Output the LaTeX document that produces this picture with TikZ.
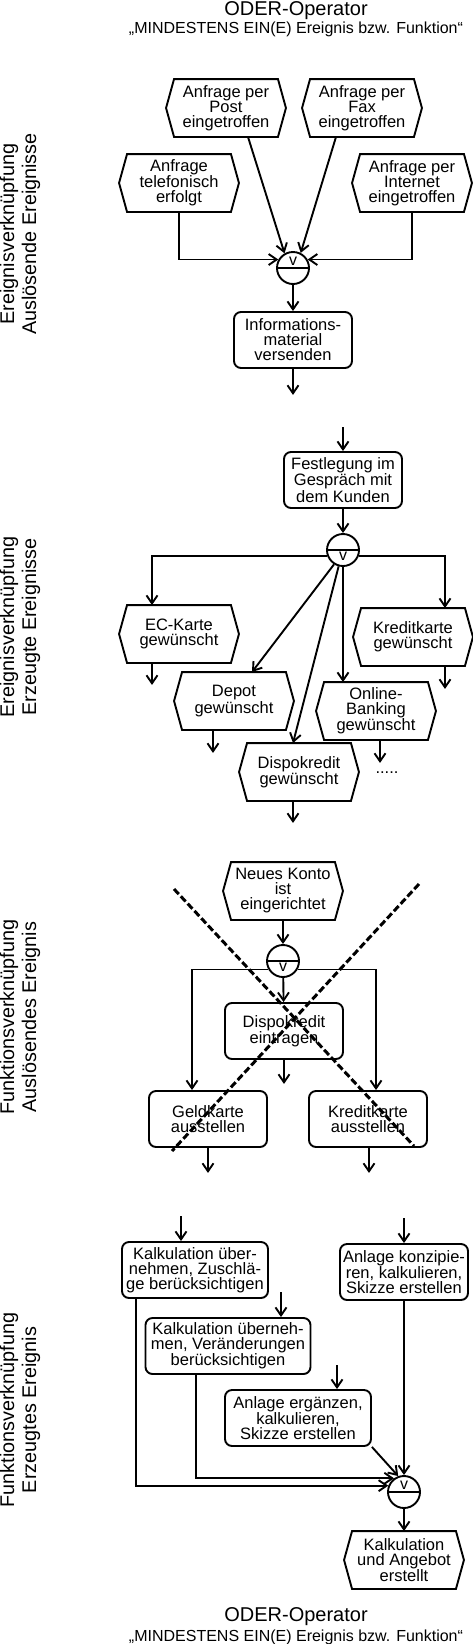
\documentclass[tikz,border=0pt]{standalone}
\usepackage{fontspec}
\setmainfont{Liberation Sans}
\usetikzlibrary{positioning, arrows.meta, calc}

\tikzset{
  pfeil/.style={-{Straight Barb[length=8pt,width=11pt]}},
  boxtext/.style={font=\fontsize{16.5}{15}\selectfont, align=center, inner sep=0pt},
  funktion/.style={boxtext, draw, rounded corners=7pt, minimum width=118pt, minimum height=56pt},
  ereignis/.style={boxtext, minimum width=118pt, minimum height=56pt},
  oder/.style={draw, circle, minimum size=32pt, inner sep=0pt,
    path picture={\draw (path picture bounding box.west) -- (path picture bounding box.east);}},
  oderoben/.style={oder, label={[font=\fontsize{16}{16}\selectfont, yshift=6.5pt]center:v}},
  oderunten/.style={oder, label={[font=\fontsize{16}{16}\selectfont, yshift=-6.5pt]center:v}},
  seite/.style={font=\fontsize{19.8}{22}\selectfont, align=center, rotate=90, inner sep=0pt},
  titel/.style={font=\fontsize{20}{20}\selectfont, anchor=base},
  untertitel/.style={font=\fontsize{16}{16}\selectfont, anchor=base},
  kreuz/.style={line width=3pt, dash pattern=on 7pt off 3pt}
}

\begin{document}
\begin{tikzpicture}[x=1pt, y=1pt, line width=1.9pt]
    \useasboundingbox (0,0) rectangle (473,-1644);

    % Titles
    \node[titel] (titeloben) at (296,-15.5) {ODER-Operator};
    \node[untertitel] (untertiteloben) at (296,-33) {„MINDESTENS EIN(E) Ereignis bzw. Funktion“};
    \node[titel] (titelunten) at (296,-1621) {ODER-Operator};
    \node[untertitel] (untertitelunten) at (296,-1641) {„MINDESTENS EIN(E) Ereignis bzw. Funktion“};

    % Side labels
    \node[seite] (seite1) at (20,-234) {Ereignisverknüpfung\\Auslösende Ereignisse};
    \node[seite] (seite2) at (20,-627) {Ereignisverknüpfung\\Erzeugte Ereignisse};
    \node[seite] (seite3) at (20,-1017) {Funktionsverknüpfung\\Auslösendes Ereignis};
    \node[seite] (seite4) at (20,-1410) {Funktionsverknüpfung\\Erzeugtes Ereignis};

    % Ereignisverknuepfung, ausloesende Ereignisse
    \node[ereignis] (post) at (226,-108) {Anfrage per\\Post\\eingetroffen};
    \node[ereignis] (fax) at (362,-108) {Anfrage per\\Fax\\eingetroffen};
    \node[ereignis] (tel) at (179,-183) {Anfrage\\telefonisch\\erfolgt};
    \node[ereignis] (inet) at (412,-183) {Anfrage per\\Internet\\eingetroffen};
    \node[oderoben] (or1) at (293,-268) {};
    \node[funktion] (info) at (293,-340) {Informations-\\material\\versenden};
    \coordinate[below=26pt of info.south] (infoaus);

    \draw[pfeil] ([xshift=22pt]post.south) -- (or1.120);
    \draw[pfeil] ([xshift=-26pt]fax.south) -- (or1.63);
    \draw[pfeil] (tel.south) |- (or1.150);
    \draw[pfeil] (inet.south) |- (or1.30);
    \draw[pfeil] (or1) -- (info);
    \draw[pfeil] (info) -- (infoaus);

    % Ereignisverknuepfung, erzeugte Ereignisse
    \node[funktion] (fest) at (343,-480) {Festlegung im\\Gespräch mit\\dem Kunden};
    \coordinate[above=24pt of fest.north] (festein);
    \node[oderunten] (or2) at (343,-550) {};
    \node[ereignis] (ec) at (179,-634) {EC-Karte\\gewünscht};
    \node[ereignis] (kk) at (413,-637) {Kreditkarte\\gewünscht};
    \node[ereignis] (depot) at (234,-701) {Depot\\gewünscht};
    \node[ereignis] (online) at (376,-711) {Online-\\Banking\\gewünscht};
    \node[ereignis] (dispo) at (299,-772) {Dispokredit\\gewünscht};
    \node[boxtext] (punkte) at (387,-773) {.....};
    \coordinate[below=22pt of ec.south, xshift=-27pt] (ecaus);
    \coordinate[below=23pt of kk.south, xshift=32pt] (kkaus);
    \coordinate[below=23pt of depot.south, xshift=-21pt] (depotaus);
    \coordinate[below=23pt of online.south, xshift=4pt] (onlineaus);
    \coordinate[below=22pt of dispo.south, xshift=-6pt] (dispoaus);

    \draw[pfeil] (festein) -- (fest);
    \draw[pfeil] (fest) -- (or2);
    \draw[pfeil] (or2.200) -| (ecaus |- ec.north);
    \draw[pfeil] (or2.-20) -| (kkaus |- kk.north);
    \draw[pfeil] (or2.238) -- ([xshift=18pt]depot.north);
    \draw[pfeil] (or2.255) -- (dispoaus |- dispo.north);
    \draw[pfeil] (or2.south) -- (or2.south |- online.north);
    \draw[pfeil] (ec.south -| ecaus) -- (ecaus);
    \draw[pfeil] (kk.south -| kkaus) -- (kkaus);
    \draw[pfeil] (depot.south -| depotaus) -- (depotaus);
    \draw[pfeil] (online.south -| onlineaus) -- (onlineaus);
    \draw[pfeil] (dispo.south -| dispoaus) -- (dispoaus);

    % Funktionsverknuepfung, ausloesendes Ereignis
    \node[ereignis] (konto) at (283,-891) {Neues Konto\\ist\\eingerichtet};
    \node[oderunten] (or3) at (283,-961) {};
    \node[funktion] (dispoein) at (284,-1031) {Dispokredit\\eintragen};
    \node[funktion] (geld) at (208,-1119) {Geldkarte\\ausstellen};
    \node[funktion] (kka) at (368,-1119) {Kreditkarte\\ausstellen};
    \coordinate[below=24pt of dispoein.south] (dispoeinaus);
    \coordinate[below=25pt of geld.south] (geldaus);
    \coordinate[below=25pt of kka.south, xshift=1pt] (kkaaus);

    \draw[pfeil] (konto) -- (or3);
    \draw[pfeil] (or3) -- (dispoein);
    \draw[pfeil] (or3.210) -| ([xshift=-16pt]geld.north);
    \draw[pfeil] (or3.-30) -| ([xshift=8pt]kka.north);
    \draw[pfeil] (dispoein) -- (dispoeinaus);
    \draw[pfeil] (geld) -- (geldaus);
    \draw[pfeil] (kka.south -| kkaaus) -- (kkaaus);

    % Funktionsverknuepfung, erzeugtes Ereignis
    \node[funktion, minimum width=146pt] (kz) at (195,-1270) {Kalkulation über-\\nehmen, Zuschlä-\\ge berücksichtigen};
    \node[funktion, minimum width=128pt] (ak) at (404,-1272) {Anlage konzipie-\\ren, kalkulieren,\\Skizze erstellen};
    \node[funktion, minimum width=165pt] (kv) at (228,-1346) {Kalkulation überneh-\\men, Veränderungen\\berücksichtigen};
    \node[funktion, minimum width=146pt] (ae) at (298,-1418) {Anlage ergänzen,\\kalkulieren,\\Skizze erstellen};
    \node[oderoben] (or4) at (404,-1492) {};
    \node[ereignis] (angebot) at (404,-1560) {Kalkulation\\und Angebot\\erstellt};
    \coordinate[above=25pt of kz.north, xshift=-14pt] (kzein);
    \coordinate[above=25pt of ak.north] (akein);
    \coordinate[above=25pt of kv.north, xshift=53pt] (kvein);
    \coordinate[above=24pt of ae.north, xshift=39pt] (aeein);

    \draw[pfeil] (kzein) -- (kzein |- kz.north);
    \draw[pfeil] (akein) -- (ak);
    \draw[pfeil] (kvein) -- (kvein |- kv.north);
    \draw[pfeil] (aeein) -- (aeein |- ae.north);
    \draw[pfeil] ([xshift=15pt]kz.south west) |- (or4.158);
    \draw[pfeil] ([xshift=51pt]kv.south west) |- (or4.126);
    \draw[pfeil] (ae.south east) -- (or4.110);
    \draw[pfeil] (ak) -- (or4);
    \draw[pfeil] (or4) -- (angebot);

    % Ereignis-Sechsecke
    \foreach \e in {post,fax,tel,inet,ec,kk,depot,online,dispo,konto,angebot}
      \draw (\e.west) -- ([xshift=8pt]\e.north west) -- ([xshift=-8pt]\e.north east)
        -- (\e.east) -- ([xshift=-8pt]\e.south east) -- ([xshift=8pt]\e.south west) -- cycle;

    % Durchgestrichen
    \coordinate (k1) at (174,-889);
    \coordinate (k2) at (414,-1146);
    \coordinate (k3) at (419,-884);
    \coordinate (k4) at (172,-1151);
    \draw[kreuz] (k1) -- (k2);
    \draw[kreuz] (k3) -- (k4);

\end{tikzpicture}
\end{document}
